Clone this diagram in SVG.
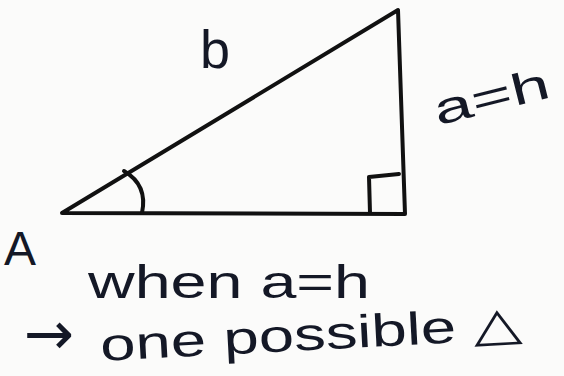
<svg xmlns="http://www.w3.org/2000/svg" width="564" height="376" viewBox="0 0 564 376">
<style>
.ln{fill:none;stroke:#111;stroke-width:4;stroke-linecap:round;stroke-linejoin:round}
.t{font-family:"Liberation Sans",Arial,sans-serif;fill:#141826}
</style>
<rect width="564" height="376" fill="#fbfbfa"/>
<g id="triangle">
<path class="ln" d="M62,213 L398,10 L405,214 Z"/>
</g>
<g id="angle-A">
<path class="ln" d="M124,171 Q148,185 142,213"/>
</g>
<g id="right-angle">
<path class="ln" d="M370,213 L369,177 L399,174"/>
</g>
<g id="labels">
<text class="t" x="200" y="68" font-size="54">b</text>
<text class="t" x="432" y="112" font-size="44" textLength="118" lengthAdjust="spacingAndGlyphs" transform="rotate(-14 490 95)">a=h</text>
<text class="t" x="4" y="265" font-size="48">A</text>
<text class="t" x="88" y="298" font-size="46" textLength="282" lengthAdjust="spacingAndGlyphs">when  a=h</text>
<text class="t" x="24" y="354" font-size="60" style="font-family:'DejaVu Sans',sans-serif">→</text>
<text class="t" x="100" y="350" font-size="46" textLength="422" lengthAdjust="spacingAndGlyphs" transform="rotate(-3 310 335)">one  possible △</text>
</g>
</svg>
